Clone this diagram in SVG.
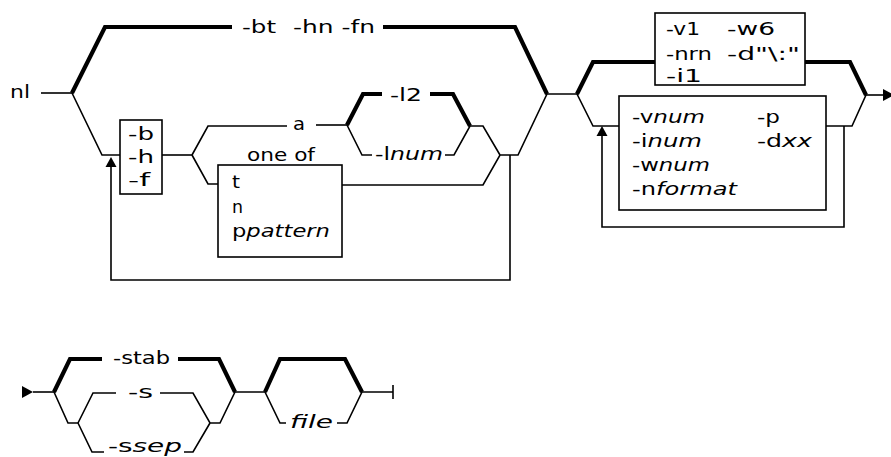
<svg xmlns="http://www.w3.org/2000/svg" width="891" height="457" viewBox="0 0 891 457">
<style>
.ln{fill:none;stroke:#000;stroke-width:1.6;stroke-linejoin:miter}
.tk{fill:none;stroke:#000;stroke-width:4.2;stroke-linejoin:miter}
.bx{fill:none;stroke:#000;stroke-width:1.6}
.ar{fill:#000;stroke:none}
text{font-family:"DejaVu Sans","Liberation Sans",sans-serif;font-size:18px;fill:#000}
.i{font-style:italic}
</style>
<rect width="891" height="457" fill="#fff"/>
<g id="connectors">
<path class="ln" d="M41,93 H72"/>
<path class="tk" d="M72,93 L105,27 H232"/>
<path class="tk" d="M383,27 H515 L547,94"/>
<path class="ln" d="M72,93 L102,155 H120"/>
<path class="ln" d="M162,155 H192"/>
<path class="ln" d="M192,155 L208,126 H287"/>
<path class="ln" d="M316,125 H347"/>
<path class="tk" d="M347,125 L363,94 H382"/>
<path class="tk" d="M430,94 H453 L470,126"/>
<path class="ln" d="M347,125 L362,155 H372"/>
<path class="ln" d="M445,155 H454 L470,126 H483 L500,155"/>
<path class="ln" d="M192,155 L208,184 H218"/>
<path class="ln" d="M342,185 H483 L500,155 H518 L547,94 H577"/>
<path class="ln" d="M510,155 V280 H111 V165"/>
<polygon class="ar" points="111,157 105.5,167 116.5,167"/>
<path class="tk" d="M577,94 L593,62 H655"/>
<path class="tk" d="M805,62 H850 L866,95"/>
<path class="ln" d="M866,95 H884"/>
<polygon class="ar" points="883,89 894,95 883,101"/>
<path class="ln" d="M577,94 L593,126 H619"/>
<path class="ln" d="M826,126 H852 L866,95"/>
<path class="ln" d="M844,126 V227 H602 V135"/>
<polygon class="ar" points="602,126 596.5,136 607.5,136"/>
<polygon class="ar" points="22,386 33,392 22,398"/>
<path class="ln" d="M33,392 H54"/>
<path class="tk" d="M54,392 L70,359 H102"/>
<path class="tk" d="M178,359 H219 L235,392"/>
<path class="ln" d="M54,392 L68,423 H78"/>
<path class="ln" d="M78,423 L93,393 H116"/>
<path class="ln" d="M160,393 H193 L210,423 H220 L235,392 H265"/>
<path class="ln" d="M78,423 L92,452 H104"/>
<path class="ln" d="M184,452 H193 L210,423"/>
<path class="tk" d="M265,392 L280,359 H345 L362,392"/>
<path class="ln" d="M265,392 L280,423 H286"/>
<path class="ln" d="M337,423 H347 L362,392 H393"/>
<path class="ln" d="M393,385 V399"/>
</g>
<g id="cmd-nl"><text x="10" y="98" textLength="20" lengthAdjust="spacingAndGlyphs">nl</text></g>
<g id="opt-bt"><text x="242" y="33" textLength="34" lengthAdjust="spacingAndGlyphs">-bt</text></g>
<g id="opt-hn-fn"><text x="293" y="33" textLength="82" lengthAdjust="spacingAndGlyphs">-hn -fn</text></g>
<g id="box-bhf">
<rect class="bx" x="120" y="120" width="42" height="74"/>
<text x="128" y="140" textLength="26" lengthAdjust="spacingAndGlyphs">-b</text>
<text x="128" y="163" textLength="26" lengthAdjust="spacingAndGlyphs">-h</text>
<text x="128" y="186" textLength="22" lengthAdjust="spacingAndGlyphs">-f</text>
</g>
<g id="opt-a"><text x="293" y="130" textLength="12" lengthAdjust="spacingAndGlyphs">a</text></g>
<g id="opt-l2"><text x="390" y="101" textLength="32" lengthAdjust="spacingAndGlyphs">-l2</text></g>
<g id="opt-lnum"><text x="375" y="160" textLength="68" lengthAdjust="spacingAndGlyphs">-l<tspan class="i">num</tspan></text></g>
<g id="box-oneof">
<text x="247" y="161" textLength="68" lengthAdjust="spacingAndGlyphs">one of</text>
<rect class="bx" x="218" y="165" width="124" height="92"/>
<text x="232" y="188" textLength="8" lengthAdjust="spacingAndGlyphs">t</text>
<text x="232" y="213" textLength="11" lengthAdjust="spacingAndGlyphs">n</text>
<text x="232" y="237" textLength="98" lengthAdjust="spacingAndGlyphs">p<tspan class="i">pattern</tspan></text>
</g>
<g id="box-defaults">
<rect class="bx" x="655" y="13" width="150" height="72"/>
<text x="666" y="35" textLength="34" lengthAdjust="spacingAndGlyphs">-v1</text>
<text x="666" y="60" textLength="46" lengthAdjust="spacingAndGlyphs">-nrn</text>
<text x="666" y="82" textLength="36" lengthAdjust="spacingAndGlyphs">-i1</text>
<text x="727" y="35" textLength="48" lengthAdjust="spacingAndGlyphs">-w6</text>
<text x="727" y="60" textLength="73" lengthAdjust="spacingAndGlyphs">-d"\:"</text>
</g>
<g id="box-options">
<rect class="bx" x="619" y="96" width="207" height="114"/>
<text x="632" y="123" textLength="73" lengthAdjust="spacingAndGlyphs">-v<tspan class="i">num</tspan></text>
<text x="632" y="147" textLength="70" lengthAdjust="spacingAndGlyphs">-i<tspan class="i">num</tspan></text>
<text x="632" y="171" textLength="78" lengthAdjust="spacingAndGlyphs">-w<tspan class="i">num</tspan></text>
<text x="632" y="195" textLength="105" lengthAdjust="spacingAndGlyphs">-n<tspan class="i">format</tspan></text>
<text x="757" y="123" textLength="23" lengthAdjust="spacingAndGlyphs">-p</text>
<text x="757" y="147" textLength="55" lengthAdjust="spacingAndGlyphs">-d<tspan class="i">xx</tspan></text>
</g>
<g id="opt-stab"><text x="113" y="364" textLength="57" lengthAdjust="spacingAndGlyphs">-stab</text></g>
<g id="opt-s"><text x="128" y="398" textLength="25" lengthAdjust="spacingAndGlyphs">-s</text></g>
<g id="opt-ssep"><text x="108" y="452" textLength="74" lengthAdjust="spacingAndGlyphs" style="font-size:17px">-s<tspan class="i">sep</tspan></text></g>
<g id="opt-file"><text x="290" y="428" textLength="43" lengthAdjust="spacingAndGlyphs" class="i">file</text></g>
</svg>
